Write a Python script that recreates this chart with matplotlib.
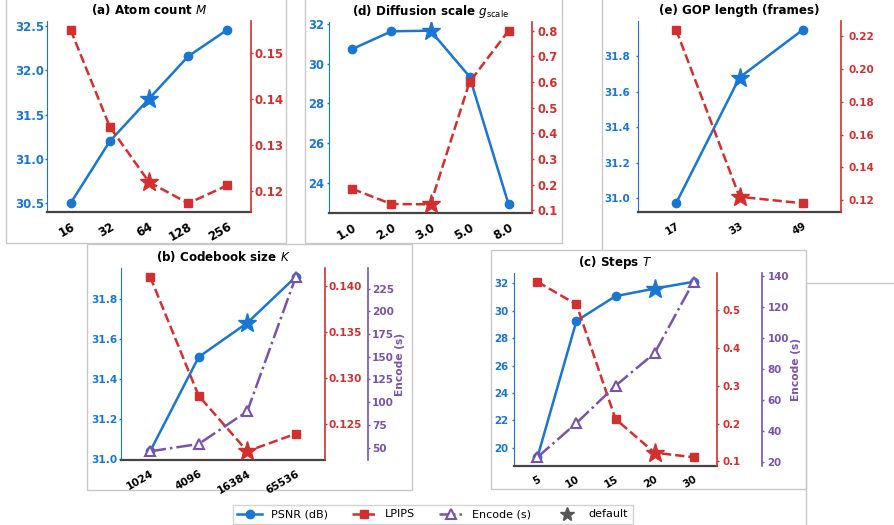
import matplotlib
matplotlib.use('Agg')
import matplotlib.pyplot as plt
from matplotlib.patches import Rectangle
from matplotlib.lines import Line2D
from matplotlib.ticker import MultipleLocator
import numpy as np

# data
atom_x = ['16', '32', '64', '128', '256']
atom_psnr = [30.50, 31.20, 31.68, 32.16, 32.46]
atom_lpips = [0.155, 0.134, 0.122, 0.1174, 0.1213]
atom_def = 2

diff_x = ['1.0', '2.0', '3.0', '5.0', '8.0']
diff_psnr = [30.74, 31.63, 31.66, 29.35, 22.93]
diff_lpips = [0.184, 0.125, 0.124, 0.600, 0.800]
diff_def = 2

gop_x = ['17', '33', '49']
gop_psnr = [30.97, 31.68, 31.95]
gop_lpips = [0.224, 0.122, 0.118]
gop_def = 1

cb_x = ['1024', '4096', '16384', '65536']
cb_psnr = [31.04, 31.51, 31.68, 31.91]
cb_lpips = [0.1410, 0.1281, 0.1221, 0.1240]
cb_enc = [46, 54, 90, 238]
cb_def = 2

steps_x = ['5', '10', '15', '20', '30']
steps_psnr = [19.30, 29.26, 31.07, 31.62, 32.12]
steps_lpips = [0.575, 0.515, 0.212, 0.123, 0.111]
steps_enc = [23, 45, 69, 90, 136]
steps_def = 3

BLUE = '#1976D2'
RED = '#D32F2F'
PURPLE = '#7B52AB'
GRAY = '#c8c8c8'

W, H = 894, 525
plt.rcParams['font.family'] = ['DejaVu Sans']
fig = plt.figure(figsize=(W / 100, H / 100), dpi=100)


def add_px(l, t, r, b):
    return fig.add_axes([l / W, 1 - b / H, (r - l) / W, (b - t) / H])


def frame(l, t, r, b):
    fig.add_artist(Rectangle((l / W, 1 - b / H), (r - l) / W, (b - t) / H,
                             transform=fig.transFigure, fill=False,
                             ec=GRAY, lw=1, zorder=-1))


def style_ticks(ax, color, fs, pad):
    ax.tick_params(axis='y', colors=color, labelsize=fs, length=1.6,
                   width=1, pad=pad)
    for lab in ax.get_yticklabels():
        lab.set_fontweight('bold')


def panel(rect, title, labels, psnr, lpips, d, yl, yr, fs, pad,
          enc=None, ye=None, off=31):
    ax = add_px(*rect)
    x = np.arange(len(labels))
    others = [i for i in x if i != d]
    ax.plot(x, psnr, color=BLUE, lw=1.8, marker='o', ms=6, markevery=others)
    ax.plot(x[d], psnr[d], marker='*', ms=14, color=BLUE, ls='none')
    ax.set_xlim(-0.6, len(labels) - 0.4)
    ax.set_xticks(x)
    ax.set_xticklabels(labels, rotation=30, ha='right', fontsize=fs,
                       fontweight='bold', rotation_mode='anchor')
    ax.tick_params(axis='x', length=0, pad=6)
    ax.yaxis.set_major_locator(MultipleLocator(yl))
    ax.spines['top'].set_visible(False)
    ax.spines['right'].set_visible(False)
    ax.spines['left'].set_color(BLUE)
    ax.spines['bottom'].set_color('#444444')
    ax.spines['bottom'].set_linewidth(1.6)
    style_ticks(ax, BLUE, fs, pad)
    ax.set_title(title, fontsize=8.6, fontweight='bold', pad=5)

    ax2 = ax.twinx()
    ax2.plot(x, lpips, color=RED, lw=1.8, ls='--', marker='s', ms=6,
             markevery=others)
    ax2.plot(x[d], lpips[d], marker='*', ms=14, color=RED, ls='none')
    ax2.yaxis.set_major_locator(MultipleLocator(yr))
    for s in ['top', 'left', 'bottom']:
        ax2.spines[s].set_visible(False)
    ax2.spines['right'].set_color(RED)
    ax2.spines['right'].set_linewidth(1.2)
    style_ticks(ax2, RED, fs, pad)

    if enc is not None:
        ax3 = ax.twinx()
        ax3.plot(x, enc, color=PURPLE, lw=1.8, ls='-.', marker='^', ms=7,
                 mfc='white', mew=1.5)
        ax3.spines['right'].set_position(('outward', off))
        for s in ['top', 'left', 'bottom']:
            ax3.spines[s].set_visible(False)
        ax3.spines['right'].set_color(PURPLE)
        ax3.spines['right'].set_linewidth(1.2)
        ax3.yaxis.set_major_locator(MultipleLocator(ye))
        style_ticks(ax3, PURPLE, fs, pad)
        ax3.set_ylabel('Encode (s)', color=PURPLE, fontsize=7.7,
                       fontweight='bold', labelpad=1)
    return ax


# panel frames (screenshots pasted together)
frame(6, -5, 286, 243)
frame(305, -5, 562, 243)
fig.add_artist(Line2D([602 / W, 602 / W], [1, 1 - 249 / H],
                      transform=fig.transFigure, color=GRAY, lw=1, zorder=-1))
frame(87, 244, 412, 490)
frame(491, 250, 806, 489)
frame(806, 283, 900, 600)

panel((47, 21, 251, 212), '(a) Atom count $M$', atom_x, atom_psnr,
      atom_lpips, atom_def, 0.5, 0.01, 8.5, 0.6)
panel((329, 22, 532, 213), r'(d) Diffusion scale $g_{\mathrm{scale}}$', diff_x,
      diff_psnr, diff_lpips, diff_def, 2, 0.1, 8.3, 2)
panel((638, 21, 841, 212), '(e) GOP length (frames)', gop_x, gop_psnr,
      gop_lpips, gop_def, 0.2, 0.02, 7.5, 4)
panel((121, 268, 325, 460), '(b) Codebook size $K$', cb_x, cb_psnr,
      cb_lpips, cb_def, 0.2, 0.005, 7.6, 1.2, cb_enc, 25, 31)
panel((514, 273, 717, 466), '(c) Steps $T$', steps_x, steps_psnr,
      steps_lpips, steps_def, 2, 0.1, 7.4, 2.5, steps_enc, 20, 32.4)

handles = [
    Line2D([], [], color=BLUE, lw=1.8, marker='o', ms=6),
    Line2D([], [], color=RED, lw=1.8, ls='--', marker='s', ms=6),
    Line2D([], [], color=PURPLE, lw=1.8, ls='-.', marker='^', ms=7,
           mfc='white', mew=1.5),
    Line2D([], [], color='#555555', ls='none', marker='*', ms=10),
]
labels = ['PSNR (dB)', 'LPIPS', 'Encode (s)', 'default']
fig.legend(handles, labels, ncol=4, loc='upper left',
           bbox_to_anchor=(233 / W, 1 - 505 / H), borderaxespad=0,
           fontsize=8, frameon=True, fancybox=False, edgecolor=GRAY,
           handlelength=2.2, columnspacing=2.15, handletextpad=0.8)

fig.savefig('out.png', dpi=100)
